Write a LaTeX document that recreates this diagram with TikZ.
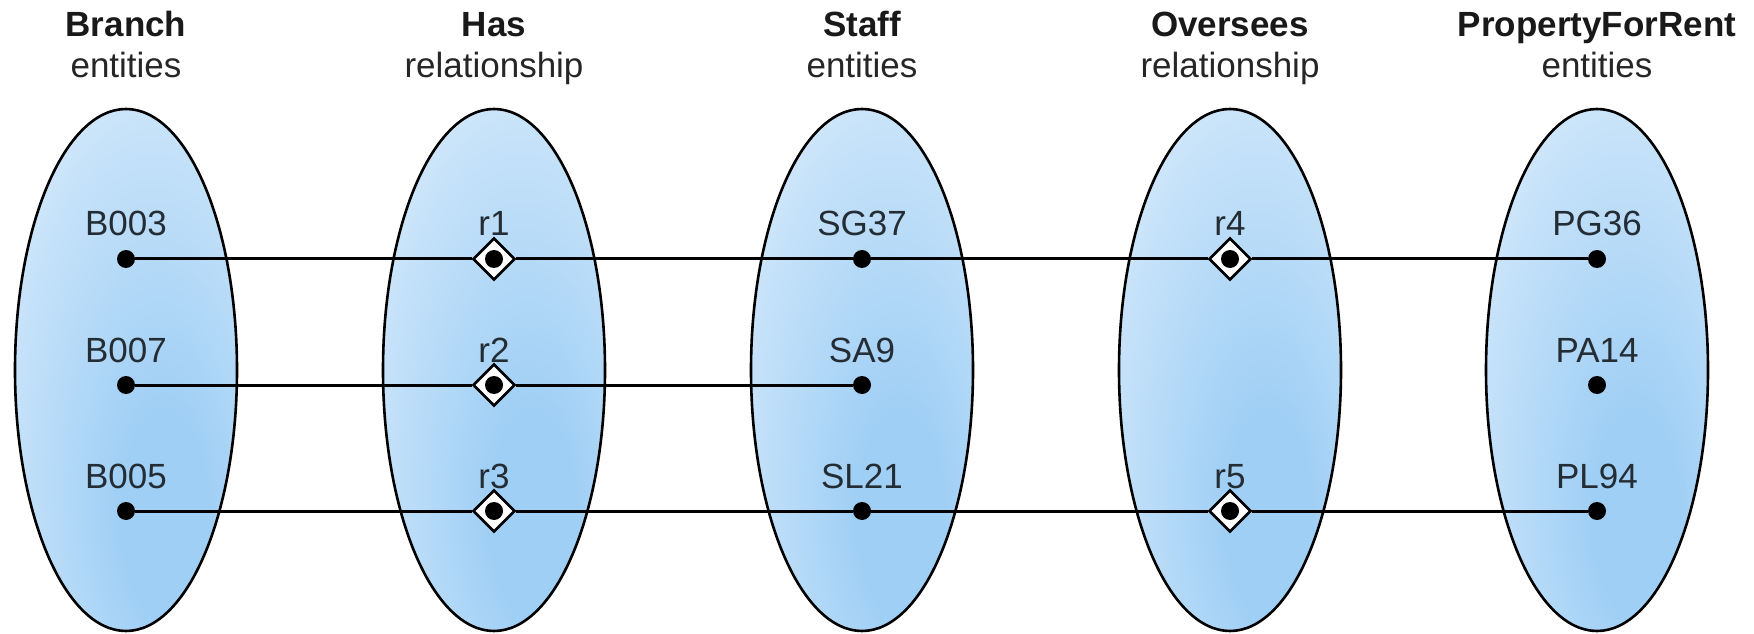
\documentclass[tikz,border=0pt]{standalone}
\usepackage{fontspec}
\setmainfont{Liberation Sans}
\usetikzlibrary{shapes.geometric}

\definecolor{ovaldeep}{RGB}{160,207,245}
\definecolor{ovalmid}{RGB}{198,226,249}
\definecolor{ovalpale}{RGB}{240,247,253}
\definecolor{inktext}{RGB}{36,44,52}

% soft blue fill of the entity/relationship sets, strongest towards the lower right
\pgfdeclareradialshading{ovalfill}{\pgfpoint{10bp}{-16bp}}{%
  color(0bp)=(ovaldeep); color(10bp)=(ovaldeep); color(32bp)=(ovalmid);
  color(50bp)=(ovalpale); color(75bp)=(ovalpale)}

\begin{document}
\begin{tikzpicture}[x=1pt,y=1pt,
  oval/.style={draw=black, line width=2.6pt, shade, shading=ovalfill},
  dot/.style={circle, fill=black, inner sep=0pt, minimum size=18pt},
  rel/.style={diamond, aspect=1, draw=black, fill=white, line width=2.6pt,
    inner sep=0pt, minimum size=42pt},
  link/.style={line width=3pt, black},
  head/.style={anchor=base, font=\fontsize{35}{40}\selectfont\bfseries, text=black!90},
  kind/.style={anchor=base, font=\fontsize{35}{40}\selectfont, text=black!85},
  lab/.style={anchor=base, font=\fontsize{35}{40}\selectfont, text=inktext}]

\useasboundingbox (0,0) rectangle (1754,633);

% column sets (centre 263 above the bottom edge)
\foreach \cx in {126,494,862,1230,1597}
  \path[oval] (\cx,263) ellipse (111pt and 261pt);

% column headings
\node[head] (hBranch) at (126,596) {Branch};
\node[kind] (kBranch) at (126,555) {entities};
\node[head] (hHas) at (494,596) {Has};
\node[kind] (kHas) at (494,555) {relationship};
\node[head] (hStaff) at (862,596) {Staff};
\node[kind] (kStaff) at (862,555) {entities};
\node[head] (hOver) at (1230,596) {Oversees};
\node[kind] (kOver) at (1230,555) {relationship};
\node[head] (hProp) at (1597,596) {PropertyForRent};
\node[kind] (kProp) at (1597,555) {entities};

% entity occurrences
\node[dot] (b003) at (126,374) {};
\node[dot] (b007) at (126,248) {};
\node[dot] (b005) at (126,122) {};
\node[dot] (sg37) at (862,374) {};
\node[dot] (sa9)  at (862,248) {};
\node[dot] (sl21) at (862,122) {};
\node[dot] (pg36) at (1597,374) {};
\node[dot] (pa14) at (1597,248) {};
\node[dot] (pl94) at (1597,122) {};

% relationship occurrences
\node[rel] (r1) at (494,374) {};
\node[rel] (r2) at (494,248) {};
\node[rel] (r3) at (494,122) {};
\node[rel] (r4) at (1230,374) {};
\node[rel] (r5) at (1230,122) {};
\foreach \r in {r1,r2,r3,r4,r5} \node[dot] (\r c) at (\r) {};

% labels
\node[lab] (lb003) at (126,397) {B003};
\node[lab] (lb007) at (126,271) {B007};
\node[lab] (lb005) at (126,145) {B005};
\node[lab] (lr1) at (494,397) {r1};
\node[lab] (lr2) at (494,271) {r2};
\node[lab] (lr3) at (494,145) {r3};
\node[lab] (lsg37) at (862,397) {SG37};
\node[lab] (lsa9)  at (862,271) {SA9};
\node[lab] (lsl21) at (862,145) {SL21};
\node[lab] (lr4) at (1230,397) {r4};
\node[lab] (lr5) at (1230,145) {r5};
\node[lab] (lpg36) at (1597,397) {PG36};
\node[lab] (lpa14) at (1597,271) {PA14};
\node[lab] (lpl94) at (1597,145) {PL94};

% links
\draw[link] (b003) -- (r1);
\draw[link] (r1) -- (sg37);
\draw[link] (sg37) -- (r4);
\draw[link] (r4) -- (pg36);
\draw[link] (b007) -- (r2);
\draw[link] (r2) -- (sa9);
\draw[link] (b005) -- (r3);
\draw[link] (r3) -- (sl21);
\draw[link] (sl21) -- (r5);
\draw[link] (r5) -- (pl94);
\end{tikzpicture}
\end{document}
